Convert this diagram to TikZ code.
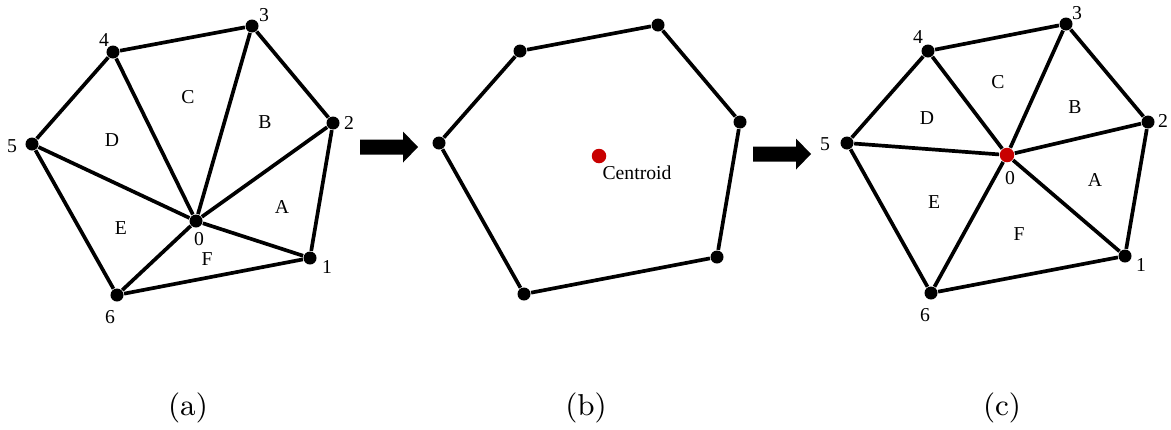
\documentclass[tikz,border=0pt]{standalone}
\usepackage{fontspec}
\newfontfamily\lblfont{Liberation Serif}
\definecolor{centroidred}{RGB}{200,0,0}
\tikzset{
  vtx/.style={circle, fill=black, minimum size=1.3mm, inner sep=0pt},
  cvtx/.style={circle, fill=centroidred, minimum size=1.45mm, inner sep=0pt},
  edge/.style={line width=1.05pt},
  lbl/.style={inner sep=0pt, font=\lblfont\fontsize{5.6}{6}\selectfont},
  subcap/.style={inner sep=0pt, font=\fontsize{8.6}{10}\selectfont}
}
\newcommand{\blockarrow}[2]{%
  \fill (#1,#2-7.5) -- ++(43,0) -- ++(0,-8) -- ++(15,15.5) -- ++(-15,15.5) -- ++(0,-8) -- ++(-43,0) -- cycle;}

\begin{document}
\begin{tikzpicture}[x=0.01cm, y=-0.01cm]
  \useasboundingbox (0,0) rectangle (1171,429);

  % (a) triangulated polygon
  \node[vtx] (a0) at (196,221) {};
  \node[vtx] (a1) at (310,258) {};
  \node[vtx] (a2) at (333,123) {};
  \node[vtx] (a3) at (252,26) {};
  \node[vtx] (a4) at (113,52) {};
  \node[vtx] (a5) at (32,144) {};
  \node[vtx] (a6) at (117,295) {};
  \draw[edge] (a1) -- (a2) -- (a3) -- (a4) -- (a5) -- (a6) -- (a1);
  \foreach \i in {1,...,6} \draw[edge] (a0) -- (a\i);
  \node[lbl] (a0l) at (199,239) {0};
  \node[lbl] (a1l) at (327,267) {1};
  \node[lbl] (a2l) at (349,123) {2};
  \node[lbl] (a3l) at (264,15) {3};
  \node[lbl] (a4l) at (104,40) {4};
  \node[lbl] (a5l) at (12,146) {5};
  \node[lbl] (a6l) at (110,317) {6};
  \node[lbl] (aA) at (282,207) {A};
  \node[lbl] (aB) at (265,122) {B};
  \node[lbl] (aC) at (188,97) {C};
  \node[lbl] (aD) at (112,140) {D};
  \node[lbl] (aE) at (121,228) {E};
  \node[lbl] (aF) at (207,259) {F};
  \node[subcap] (capa) at (188,408) {(a)};

  \blockarrow{360}{147}

  % (b) polygon and centroid
  \node[vtx] (b1) at (520,51) {};
  \node[vtx] (b2) at (658,25) {};
  \node[vtx] (b3) at (740,122) {};
  \node[vtx] (b4) at (717,257) {};
  \node[vtx] (b5) at (524,294) {};
  \node[vtx] (b6) at (439,143) {};
  \draw[edge] (b1) -- (b2) -- (b3) -- (b4) -- (b5) -- (b6) -- (b1);
  \node[cvtx] (bc) at (599,156) {};
  \node[lbl] (bcl) at (637,173) {Centroid};
  \node[subcap] (capb) at (586,408) {(b)};

  \blockarrow{753}{154}

  % (c) retriangulated from the centroid
  \node[cvtx] (c0) at (1007,155) {};
  \node[vtx] (c1) at (1125,256) {};
  \node[vtx] (c2) at (1148,122) {};
  \node[vtx] (c3) at (1066,24) {};
  \node[vtx] (c4) at (928,51) {};
  \node[vtx] (c5) at (847,143) {};
  \node[vtx] (c6) at (931,293) {};
  \draw[edge] (c1) -- (c2) -- (c3) -- (c4) -- (c5) -- (c6) -- (c1);
  \foreach \i in {1,...,6} \draw[edge] (c0) -- (c\i);
  \node[lbl] (c0l) at (1010,178) {0};
  \node[lbl] (c1l) at (1141,265) {1};
  \node[lbl] (c2l) at (1163,121) {2};
  \node[lbl] (c3l) at (1077,13) {3};
  \node[lbl] (c4l) at (918,37) {4};
  \node[lbl] (c5l) at (825,144) {5};
  \node[lbl] (c6l) at (925,315) {6};
  \node[lbl] (cA) at (1095,180) {A};
  \node[lbl] (cB) at (1075,107) {B};
  \node[lbl] (cC) at (998,82) {C};
  \node[lbl] (cD) at (927,118) {D};
  \node[lbl] (cE) at (934,202) {E};
  \node[lbl] (cF) at (1019,234) {F};
  \node[subcap] (capc) at (1002,408) {(c)};
\end{tikzpicture}
\end{document}
